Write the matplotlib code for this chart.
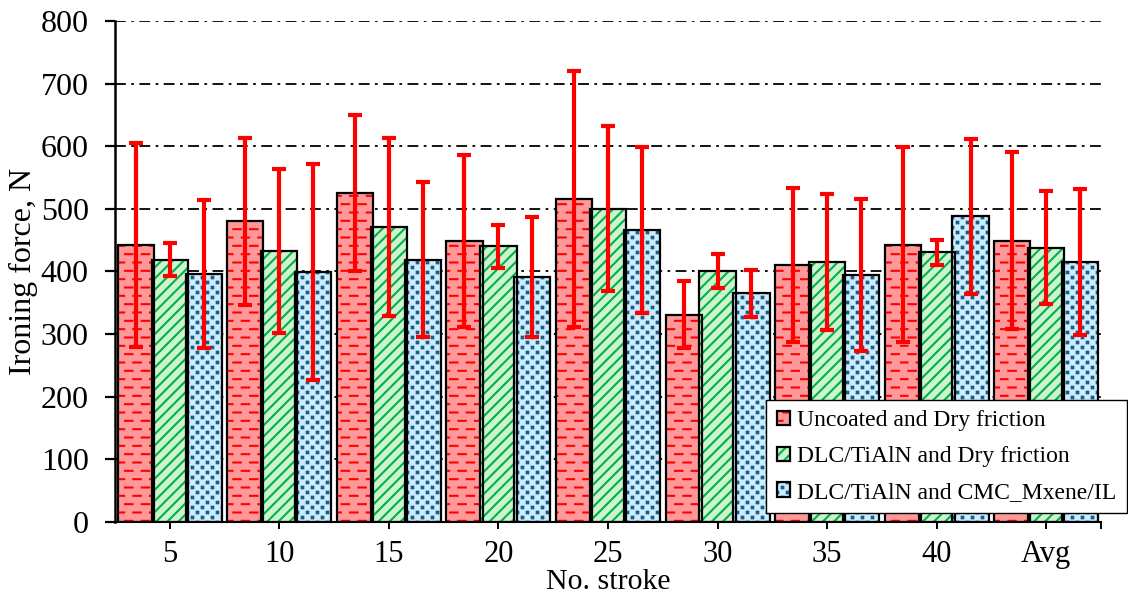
import numpy as np
import matplotlib
matplotlib.use("Agg")
import matplotlib.pyplot as plt
import matplotlib.hatch as mhatch
from matplotlib.path import Path
from matplotlib.legend_handler import HandlerTuple

# Data (N)
strokes = ['5', '10', '15', '20', '25', '30', '35', '40', 'Avg']
uncoated = [442, 480, 525, 449, 516, 331, 411, 443, 449]
uncoated_err = [163, 133, 125, 137, 204, 53, 123, 155, 141]
dlc_dry = [419, 432, 471, 440, 500, 401, 415, 431, 438]
dlc_dry_err = [26, 131, 142, 35, 132, 27, 108, 20, 90]
dlc_mxene = [396, 399, 419, 391, 466, 365, 394, 488, 415]
dlc_mxene_err = [118, 173, 124, 96, 133, 38, 121, 124, 116]
labels = ['Uncoated and Dry friction',
          'DLC/TiAlN and Dry friction',
          'DLC/TiAlN and CMC_Mxene/IL']


# Excel-like fills: staggered short dashes and small squares
class Dashes(mhatch.HatchPatternBase):
    def __init__(self, hatch, density):
        self.rows = hatch.count('-') * density
        self.cols = self.rows // 2
        self.num_vertices = self.rows * self.cols * 2

    def set_vertices_and_codes(self, vertices, codes):
        k = 0
        for i in range(self.rows):
            y = (i + 0.5) / self.rows
            shift = 0.0 if i % 2 == 0 else 0.5
            for j in range(self.cols):
                x0 = (j + shift) / self.cols
                vertices[k] = (x0, y)
                vertices[k + 1] = (x0 + 0.45 / self.cols, y)
                codes[k] = Path.MOVETO
                codes[k + 1] = Path.LINETO
                k += 2


class Squares(mhatch.HatchPatternBase):
    def __init__(self, hatch, density):
        self.cols = hatch.count('.') * density * 5 // 6
        self.rows = 2 * self.cols
        self.num_vertices = self.rows * self.cols * 5

    def set_vertices_and_codes(self, vertices, codes):
        h = 0.008
        k = 0
        for i in range(self.rows):
            cy = (i + 0.5) / self.rows
            shift = 0.25 if i % 2 == 0 else 0.75
            for j in range(self.cols):
                cx = (j + shift) / self.cols
                vertices[k:k + 5] = [(cx - h, cy - h), (cx + h, cy - h),
                                     (cx + h, cy + h), (cx - h, cy + h),
                                     (cx - h, cy - h)]
                codes[k:k + 5] = [Path.MOVETO, Path.LINETO, Path.LINETO,
                                  Path.LINETO, Path.CLOSEPOLY]
                k += 5


mhatch._hatch_types = [Dashes if t is mhatch.HorizontalHatch
                       else Squares if t is mhatch.SmallFilledCircles
                       else t for t in mhatch._hatch_types]

plt.rcParams['font.family'] = ['Liberation Serif', 'DejaVu Serif']
plt.rcParams['hatch.linewidth'] = 1.5

fig = plt.figure(figsize=(11.28, 6.09), dpi=100)
ax = fig.add_axes([0.102, 0.143, 0.874, 0.8225])

series = [
    (uncoated, uncoated_err, '#ff9999', '#ff0000', '--'),
    (dlc_dry, dlc_dry_err, '#ccf5cc', '#00b050', '///'),
    (dlc_mxene, dlc_mxene_err, '#ccecff', '#1b5e82', '..'),
]

x = np.arange(len(strokes))
width = 0.33
handles = []
for k, (vals, errs, face, hcol, hatch) in enumerate(series):
    pos = x + (k - 1) * 0.31
    b1 = ax.bar(pos, vals, width, color=face, edgecolor=hcol, linewidth=0,
                hatch=hatch, zorder=2)
    b2 = ax.bar(pos, vals, width, facecolor='none', edgecolor='black',
                linewidth=1.6, zorder=3)
    ax.errorbar(pos, vals, yerr=errs, fmt='none', ecolor='red',
                elinewidth=3, capsize=5, capthick=3, zorder=4)
    handles.append((b1.patches[0], b2.patches[0]))

ax.set_xlim(-0.5, 8.5)
ax.set_ylim(0, 800)
ax.set_yticks(np.arange(0, 801, 100))
ax.set_xticks(x)
ax.set_xticklabels(strokes)
ax.set_xticks([8.5], minor=True)

ax.yaxis.grid(True, color='black', linewidth=1.3, linestyle=(0, (6, 3, 1.5, 3)))
ax.set_axisbelow(True)

for s in ['top', 'right']:
    ax.spines[s].set_visible(False)
ax.spines['left'].set_linewidth(1.8)
ax.spines['bottom'].set_linewidth(1.5)

ax.tick_params(axis='y', direction='out', length=7, width=1.6,
               labelsize=23, pad=12)
ax.tick_params(axis='x', which='both', direction='out', length=5, width=1.4,
               labelsize=22, pad=8)

ax.set_ylabel('Ironing force, N', fontsize=23, labelpad=2)
ax.set_xlabel('No. stroke', fontsize=21.5, labelpad=0)

leg = ax.legend(handles, labels, handler_map={tuple: HandlerTuple(ndivide=1)},
                loc='lower right', bbox_to_anchor=(0.999, 0.157),
                bbox_transform=fig.transFigure, borderaxespad=0,
                fontsize=17, frameon=True, fancybox=False, framealpha=1,
                edgecolor='black', handlelength=0.55, handleheight=0.55,
                handletextpad=0.3, labelspacing=0.62, borderpad=0.45)
leg.get_frame().set_linewidth(1.0)
leg.set_zorder(5)

fig.savefig('out.png', dpi=100)
